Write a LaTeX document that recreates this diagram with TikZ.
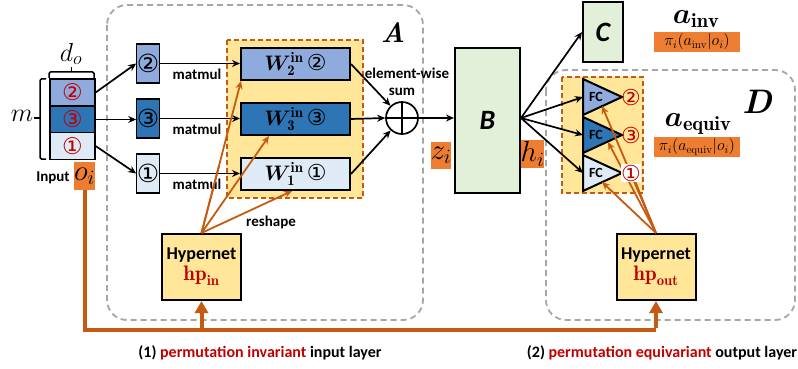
\RequirePackage{fix-cm}
\documentclass[tikz,border=0pt]{standalone}
\usepackage{bm}
\usepackage{fontspec}
\setsansfont{Carlito}
\newfontfamily\dv{DejaVu Sans}
\usetikzlibrary{arrows.meta,calc}
\definecolor{lb}{HTML}{8FAADC}
\definecolor{db}{HTML}{2E75B6}
\definecolor{vlb}{HTML}{DEEBF7}
\definecolor{yel}{HTML}{FFE699}
\definecolor{org}{HTML}{C55A11}
\definecolor{orgbox}{HTML}{ED7D31}
\definecolor{grn}{HTML}{E2F0D9}
\definecolor{gry}{HTML}{A6A6A6}
\definecolor{dred}{HTML}{C00000}
\newcommand{\fs}[1]{\fontsize{#1}{#1}\selectfont}
\begin{document}
\begin{tikzpicture}[x=1pt,y=-1pt,
  grp/.style={draw=gry, line width=1.8pt, dash pattern=on 6pt off 4pt, rounded corners=20pt},
  ybox/.style={fill=yel, draw=org, line width=1.6pt, dash pattern=on 5pt off 3pt},
  cell/.style={draw, line width=1.2pt, minimum width=45pt, minimum height=27pt, inner sep=0pt, font=\dv\fs{23}\color{dred}},
  sbox/.style={draw, line width=1.2pt, minimum width=22pt, minimum height=39pt, inner sep=0pt, font=\dv\fs{25}},
  wbox/.style={draw, line width=2pt, minimum width=109pt, minimum height=32pt, inner sep=0pt, font=\fs{21}},
  tri/.style={draw, line width=2pt, line join=miter},
  hyp/.style={draw, line width=2pt, fill=yel, minimum width=79pt, minimum height=66pt, inner sep=0pt, align=center, font=\sffamily\bfseries\fs{18}},
  obox/.style={fill=orgbox, inner sep=0pt},
  lbl/.style={font=\sffamily\bfseries\fs{15}, inner sep=0pt},
  arr/.style={-{Stealth[length=8pt,width=7pt]}, line width=1.7pt},
  oarr/.style={draw=org, line width=1.8pt, -{Stealth[length=8pt,width=7pt]}},
  oline/.style={draw=org, line width=1.8pt},
  thk/.style={draw=org, line width=4pt},
  thkarr/.style={draw=org, line width=4pt, -{Triangle[length=12pt,width=13pt]}},
  circ/.style={font=\dv\fs{22}, text=dred, inner sep=0pt}
]
\useasboundingbox (0,0) rectangle (798,369);

% group frames
\draw[grp] (107,5) rectangle (423,320);
\draw[grp] (546,70) rectangle (795,320);

% yellow dashed boxes
\draw[ybox] (227,40) rectangle (363,198);
\draw[ybox] (562,77) rectangle (643,193);

% input stack
\node[cell, fill=lb] (r2) at (72.5,92.5) {②};
\node[cell, fill=db] (r3) at (72.5,119.5) {③};
\node[cell, fill=vlb] (r1) at (72.5,146) {①};
\draw[line width=1.5pt, rounded corners=1.5pt] (49,78) -- (49,72) -- (94,72) -- (94,78);
\draw[line width=1.5pt] (71.5,72) -- (71.5,67);
\draw[line width=1.5pt, rounded corners=1.5pt] (46,79) -- (40,79) -- (40,159) -- (46,159);
\draw[line width=1.5pt] (40,118) -- (34,118);
\node (dlab) at (71,54) {\fs{26}$d_o$};
\node (mlab) at (22,116) {\fs{26}$m$};
\node[lbl] (inp) at (53,178) {Input};
\node[obox, minimum width=19pt, minimum height=28pt] (oi) at (84.5,176) {\fs{29}$o_i$};

% small boxes
\node[sbox, fill=lb] (s2) at (148,63.5) {②};
\node[sbox, fill=db] (s3) at (148,118.5) {③};
\node[sbox, fill=vlb] (s1) at (148,173.5) {①};
\draw[arr] (r2.east) -- (s2.west);
\draw[arr] (r3.east) -- (s3.west |- r3.east);
\draw[arr] (r1.east) -- (s1.west);

% W boxes
\node[wbox, fill=lb] (w2) at (295.5,64) {$\bm{W}^{\mathbf{in}}_{\mathbf{2}}$\,{\dv\fs{22}②}};
\node[wbox, fill=db] (w3) at (295.5,119) {$\bm{W}^{\mathbf{in}}_{\mathbf{3}}$\,{\dv\fs{22}③}};
\node[wbox, fill=vlb] (w1) at (295.5,174) {$\bm{W}^{\mathbf{in}}_{\mathbf{1}}$\,{\dv\fs{22}①}};
\draw[arr] (s2.east) -- (w2.west |- s2.east);
\draw[arr] (s3.east) -- (w3.west |- s3.east);
\draw[arr] (s1.east) -- (w1.west |- s1.east);
\node[lbl] (mm2) at (197,74) {matmul};
\node[lbl] (mm3) at (197,129) {matmul};
\node[lbl] (mm1) at (197,184) {matmul};

% sum
\node[circle, draw, line width=1.7pt, minimum size=32pt, inner sep=0pt] (sum) at (402,118) {};
\draw[line width=1.7pt] (sum.north) -- (sum.south) (sum.west) -- (sum.east);
\draw[arr] (w2.east) -- (sum);
\draw[arr] (w3.east) -- (sum.west);
\draw[arr] (w1.east) -- (sum);
\node[lbl] (ews) at (407,73) {element-wise};
\node[lbl] (ewsum) at (402,92) {sum};
\node (Alab) at (393,33) {\fs{28}\bfseries\itshape A};

% B, C
\node[draw, line width=2pt, fill=grn, minimum width=65pt, minimum height=145pt, inner sep=0pt] (B) at (487.5,120.5) {\sffamily\bfseries\itshape\fs{28}B};
\node[draw, line width=2pt, fill=grn, minimum width=40pt, minimum height=60pt, inner sep=0pt] (C) at (603,32) {\sffamily\bfseries\itshape\fs{28}C};
\draw[arr] (sum.east) -- (sum.east -| B.west);
\node[obox, minimum width=18pt, minimum height=27pt] (zi) at (441,155) {\fs{29}$z_i$};
\node[obox, minimum width=19pt, minimum height=28pt] (hi) at (532.5,154) {\fs{29}$h_i$};

% triangles
\draw[tri, fill=lb] (583,79) -- (622,97) -- (583,115) -- cycle;
\draw[tri, fill=db] (583,117) -- (622,135) -- (583,153) -- cycle;
\draw[tri, fill=vlb] (583,155) -- (622,173) -- (583,191) -- cycle;
\node[lbl, font=\sffamily\bfseries\fs{14}] (fc2) at (596,97) {FC};
\node[lbl, font=\sffamily\bfseries\fs{14}] (fc3) at (596,135) {FC};
\node[lbl, font=\sffamily\bfseries\fs{14}] (fc1) at (596,173) {FC};
\coordinate (t2) at (583,97);
\coordinate (t3) at (583,135);
\coordinate (t1) at (583,173);
\coordinate (b2) at (602,106);
\coordinate (b3) at (608,142);
\coordinate (b1) at (602,182);
\draw[arr] ([yshift=2.5pt]B.east) -- (C.west);
\draw[arr] ([yshift=2.5pt]B.east) -- (t2);
\draw[arr] ([yshift=2.5pt]B.east) -- (t3);
\draw[arr] ([yshift=2.5pt]B.east) -- (t1);

% hypernets
\node[hyp] (hpin) at (201.5,267) {Hypernet\\[3pt]{\rmfamily\color{dred}\fs{21}$\mathbf{hp}_{\mathbf{in}}$}};
\node[hyp] (hpout) at (656,267) {Hypernet\\[3pt]{\rmfamily\color{dred}\fs{21}$\mathbf{hp}_{\mathbf{out}}$}};

\coordinate (loose) at (219,166);
\draw[oarr] (hpin.north) -- ([xshift=1pt]w2.south west);
\draw[oline] (hpin.north) -- (loose);
\draw[oarr] (hpin.north) -- ([xshift=29pt]w3.south west);
\draw[oarr] (hpin.north) -- ([xshift=52pt]w1.south west);
\node[lbl] (resh) at (271,222) {reshape};

\draw[oarr] (hpout.north) -- (b2);
\draw[oarr] (hpout.north) -- (b3);
\draw[oarr] (hpout.north) -- (b1);
\draw[oline] (hpout.north) -- (633,176);
\node[circ] (c2) at (631,97) {②};
\node[circ] (c3) at (631,135) {③};
\node[circ, fill=white, inner sep=0.5pt] (c1) at (631,173) {①};

% outputs
\node (ainv) at (696,19) {\fs{29}$\bm{a}_{\mathbf{inv}}$};
\node[obox, minimum width=86pt, minimum height=20pt] (pinv) at (697,42) {\fs{16}$\pi_i(a_{\mathrm{inv}}|o_i)$};
\node (aeq) at (698,124) {\fs{29}$\bm{a}_{\mathbf{equiv}}$};
\node[obox, minimum width=86pt, minimum height=20pt] (peq) at (697,147) {\fs{16}$\pi_i(a_{\mathrm{equiv}}|o_i)$};
\node (Dlab) at (757,102) {\fs{34}\bfseries\itshape D};

% thick orange feedback
\coordinate (bl) at (84.5,330);
\coordinate (br) at (656,330);
\draw[thk, line join=miter] (oi.south) -- (bl) -- (br);
\draw[thkarr] ([yshift=2pt]br) -- (hpout.south);
\draw[thkarr] (hpin.south |- bl) -- (hpin.south);

% captions
\node[lbl, font=\sffamily\bfseries\fs{16}] (cap1) at (260,353) {(1) {\color{dred}permutation invariant} input layer};
\node[lbl, font=\sffamily\bfseries\fs{16}] (cap2) at (662,353) {(2) {\color{dred}permutation equivariant} output layer};
\end{tikzpicture}
\end{document}
